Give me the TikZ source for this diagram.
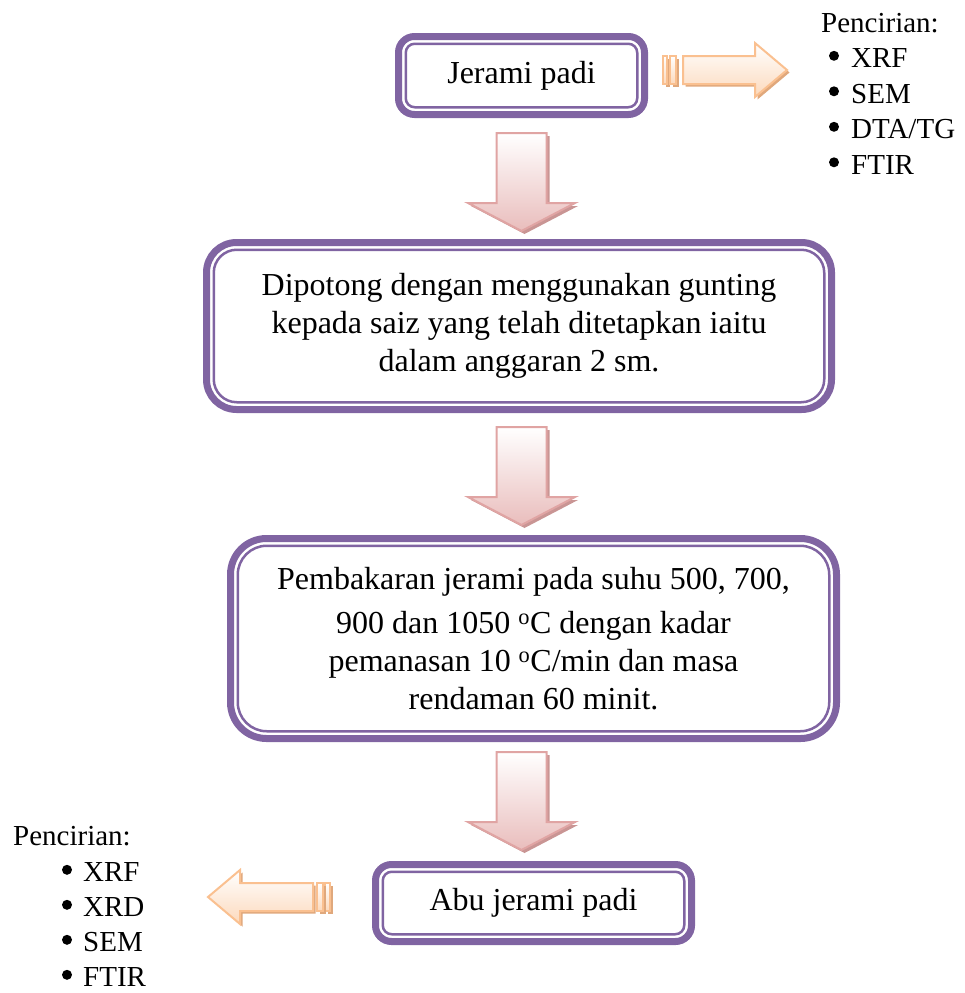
\documentclass[tikz,border=0pt]{standalone}
\usepackage{fontspec}
\setmainfont{Liberation Serif}
\usetikzlibrary{calc}

\definecolor{frame}{HTML}{8064A2}
\definecolor{pinkline}{HTML}{E0A4A3}
\definecolor{pinkfill}{HTML}{E9BDBC}
\definecolor{pinkshade}{HTML}{C99594}
\definecolor{orangeline}{HTML}{FAC090}
\definecolor{orangefill}{HTML}{FCD9BC}
\definecolor{orangeshade}{HTML}{E0A87C}

\newcommand{\boxfont}{\fontsize{32}{38}\selectfont}
\newcommand{\listfont}{\fontsize{29}{35}\selectfont}

\tikzset{
  stepbox/.style={draw=frame, line width=7pt, inner sep=0pt, outer sep=0pt,
    align=center, font=\boxfont},
  inframe/.style={draw=frame, line width=2.5pt},
  pinkarrow/.style={draw=pinkline, line width=2pt, top color=white, bottom color=pinkfill,
    preaction={fill=pinkshade, transform canvas={shift={(3pt,-3pt)}}}},
  orangearrow/.style={draw=orangeline, line width=2pt, top color=white, bottom color=orangefill,
    preaction={fill=orangeshade, transform canvas={shift={(2.5pt,-2.5pt)}}}},
  listhead/.style={font=\listfont, inner sep=0pt, anchor=base west},
  dot/.style={circle, fill, inner sep=0pt, minimum size=10pt},
  downarrow/.pic={
    \path[pinkarrow] (-25,0) -- (25,0) -- (25,70) -- (53.5,70) -- (0,98)
      -- (-53.5,70) -- (-25,70) -- cycle;
  },
  rightarrow/.pic={
    \path[orangearrow] (-20,-14) rectangle (-16,14);
    \path[orangearrow] (-13,-14) rectangle (-7,14);
    \path[orangearrow] (0,-14) -- (72,-14) -- (72,-27) -- (104,0) -- (72,27)
      -- (72,14) -- (0,14) -- cycle;
  },
  leftarrow/.pic={
    \path[orangearrow] (12,-14) rectangle (17,14);
    \path[orangearrow] (4,-14) rectangle (10,14);
    \path[orangearrow] (0,-14) -- (-73,-14) -- (-73,-27) -- (-105,0) -- (-73,27)
      -- (-73,14) -- (0,14) -- cycle;
  },
}

\begin{document}
\begin{tikzpicture}[x=1pt, y=-1pt]
  \useasboundingbox (0,0) rectangle (965,993);

  % process steps
  \node[stepbox, minimum width=246pt, minimum height=78pt, rounded corners=16pt]
    (raw) at (521.5,75.5) {Jerami padi};
  \node[stepbox, minimum width=625pt, minimum height=167pt, rounded corners=30pt]
    (cut) at (519,326) {Dipotong dengan menggunakan gunting\\
      kepada saiz yang telah ditetapkan iaitu\\ dalam anggaran 2 sm.};
  \node[stepbox, minimum width=606pt, minimum height=200pt, rounded corners=36pt]
    (burn) at (533.5,638.5) {Pembakaran jerami pada suhu 500, 700,\\[6pt]
      900 dan 1050 \textsuperscript{o}C dengan kadar\\
      pemanasan 10 \textsuperscript{o}C/min dan masa\\ rendaman 60 minit.};
  \node[stepbox, minimum width=316pt, minimum height=77pt, rounded corners=16pt]
    (ash) at (533.5,903) {Abu jerami padi};

  % inner line of the double frames
  \draw[inframe, rounded corners=9pt] ($(raw.north west)+(7.25,7.25)$)
    rectangle ($(raw.south east)+(-7.25,-7.25)$);
  \draw[inframe, rounded corners=23pt] ($(cut.north west)+(7.25,7.25)$)
    rectangle ($(cut.south east)+(-7.25,-7.25)$);
  \draw[inframe, rounded corners=29pt] ($(burn.north west)+(7.25,7.25)$)
    rectangle ($(burn.south east)+(-7.25,-7.25)$);
  \draw[inframe, rounded corners=9pt] ($(ash.north west)+(7.25,7.25)$)
    rectangle ($(ash.south east)+(-7.25,-7.25)$);

  % block arrows
  \pic (rawcut) at (521.5,133) {downarrow};
  \pic (cutburn) at (521.5,427) {downarrow};
  \pic (burnash) at (521.5,752) {downarrow};
  \pic (rawchar) at (683,70) {rightarrow};
  \pic (ashchar) at (313,897) {leftarrow};

  % characterisation lists
  \node[listhead] (charraw) at (821,32) {Pencirian:};
  \foreach \t [count=\i] in {XRF,SEM,DTA/TG,FTIR} {
    \node[listhead] (charraw\i) at (851,32+35.5*\i) {\t};
    \node[dot] (dotraw\i) at (834,32+35.5*\i-11.7) {};
  }
  \node[listhead] (charash) at (13,845) {Pencirian:};
  \foreach \t [count=\i] in {XRF,XRD,SEM,FTIR} {
    \node[listhead] (charash\i) at (83,846.5+35*\i) {\t};
    \node[dot] (dotash\i) at (67,846.5+35*\i-11.7) {};
  }
\end{tikzpicture}
\end{document}
